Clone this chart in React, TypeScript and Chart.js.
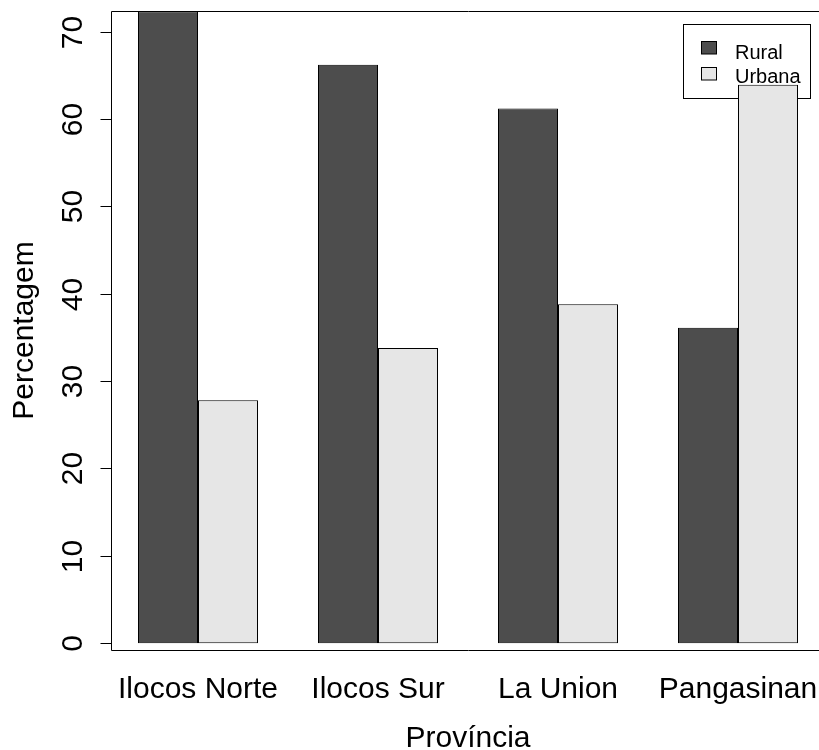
import React, { useEffect, useRef } from "react";
import { Chart, registerables } from "chart.js";

Chart.register(...registerables);

const provinces = ["Ilocos Norte", "Ilocos Sur", "La Union", "Pangasinan"];
const seriesNames = ["Rural", "Urbana"];
const rural = [72.3, 66.2, 61.2, 36.1];
const urbana = [27.8, 33.8, 38.8, 63.9];
const yTicks = [0, 10, 20, 30, 40, 50, 60, 70];
const xTitle = "Província";
const yTitle = "Percentagem";
const seriesColors = ["#4d4d4d", "#e6e6e6"];

// R barplot(beside=TRUE) geometry in bar-width units: group i centred at 2 + 3i
const groupCenters = provinces.map((_, i) => 2 + 3 * i);
const xMin = 0.55;
const xMax = 12.45;
const yMin = -0.77;
const yMax = 72.35;

const FONT = '"Liberation Sans", Arial, Helvetica, sans-serif';

const rPlugin = {
  id: "rstyle",
  beforeDatasetsDraw(chart: any) {
    const ctx = chart.ctx;
    ctx.save();
    // legend box
    ctx.fillStyle = "#ffffff";
    ctx.strokeStyle = "#000000";
    ctx.lineWidth = 1;
    ctx.fillRect(683.5, 24.5, 127, 74);
    ctx.strokeRect(683.5, 24.5, 127, 74);
    const rows = [
      { sq: 41.5, text: 59 },
      { sq: 67.5, text: 82.5 },
    ];
    ctx.font = `20px ${FONT}`;
    ctx.textAlign = "left";
    ctx.textBaseline = "alphabetic";
    seriesNames.forEach((name, i) => {
      ctx.fillStyle = seriesColors[i];
      ctx.fillRect(701.5, rows[i].sq, 15, 12.5);
      ctx.strokeStyle = "#000000";
      ctx.strokeRect(701.5, rows[i].sq, 15, 12.5);
      ctx.fillStyle = "#000000";
      ctx.fillText(name, 735, rows[i].text);
    });
    ctx.restore();
  },
  afterDatasetsDraw(chart: any) {
    const ctx = chart.ctx;
    const { left, right, top, bottom } = chart.chartArea;
    const xs = chart.scales.x;
    const ys = chart.scales.y;
    ctx.save();
    ctx.strokeStyle = "#000000";
    ctx.lineWidth = 1;
    const L = Math.round(left) + 0.5;
    const T = Math.round(top) + 0.5;
    const B = Math.round(bottom) + 0.5;
    const R = Math.round(right) + 0.5;
    ctx.beginPath();
    ctx.rect(L, T, R - L, B - T);
    ctx.stroke();

    // y axis ticks
    ctx.font = `30px ${FONT}`;
    ctx.fillStyle = "#000000";
    yTicks.forEach((v) => {
      const y = Math.round(ys.getPixelForValue(v)) + 0.5;
      ctx.beginPath();
      ctx.moveTo(L - 11, y);
      ctx.lineTo(L, y);
      ctx.stroke();
      ctx.save();
      ctx.translate(82, y);
      ctx.rotate(-Math.PI / 2);
      ctx.textAlign = "center";
      ctx.textBaseline = "alphabetic";
      ctx.fillText(String(v), 0, 0);
      ctx.restore();
    });

    // x category labels
    ctx.textAlign = "center";
    ctx.textBaseline = "alphabetic";
    provinces.forEach((p, i) => {
      ctx.fillText(p, xs.getPixelForValue(groupCenters[i]), 698);
    });

    // titles
    ctx.fillText(xTitle, (left + right) / 2, 747);
    ctx.save();
    ctx.translate(33, (top + bottom) / 2);
    ctx.rotate(-Math.PI / 2);
    ctx.textAlign = "center";
    ctx.fillText(yTitle, 0, 0);
    ctx.restore();
    ctx.restore();
  },
};

export default function App() {
  const ref = useRef<HTMLCanvasElement | null>(null);
  useEffect(() => {
    if (!ref.current) return;
    const chart = new Chart(ref.current, {
      type: "bar",
      data: {
        datasets: [
          {
            label: seriesNames[0],
            data: provinces.map((_, i) => ({ x: groupCenters[i], y: rural[i] })),
            backgroundColor: seriesColors[0],
            borderColor: "#000000",
            borderWidth: 1,
            borderSkipped: false,
          },
          {
            label: seriesNames[1],
            data: provinces.map((_, i) => ({ x: groupCenters[i], y: urbana[i] })),
            backgroundColor: seriesColors[1],
            borderColor: "#000000",
            borderWidth: 1,
            borderSkipped: false,
          },
        ],
      },
      options: {
        responsive: false,
        animation: false,
        devicePixelRatio: 1,
        categoryPercentage: 2 / 3,
        barPercentage: 1,
        layout: { padding: { left: 111, right: 5, top: 11, bottom: 100 } },
        plugins: { legend: { display: false }, tooltip: { enabled: false } },
        scales: {
          x: {
            type: "linear",
            display: false,
            offset: false,
            min: xMin,
            max: xMax,
            afterBuildTicks: (scale: any) => {
              scale.ticks = groupCenters.map((v) => ({ value: v }));
            },
          },
          y: {
            type: "linear",
            display: false,
            min: yMin,
            max: yMax,
          },
        },
      } as any,
      plugins: [rPlugin],
    });
    return () => chart.destroy();
  }, []);
  return (
    <div
      style={{
        position: "fixed",
        left: 0,
        top: 0,
        width: 819,
        height: 750,
        overflow: "hidden",
        background: "#ffffff",
      }}
    >
      <canvas ref={ref} width={830} height={750} style={{ display: "block" }} />
    </div>
  );
}
